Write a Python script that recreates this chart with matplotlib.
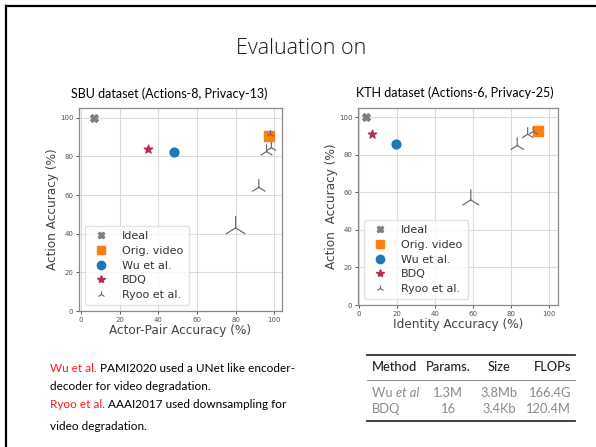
import matplotlib
matplotlib.use("Agg")
import matplotlib.pyplot as plt
from matplotlib.lines import Line2D

W, H = 596, 447

# ---------------- data ----------------
methods = ["Ideal", "Orig. video", "Wu et al.", "BDQ", "Ryoo et al."]

sbu_ideal_x, sbu_ideal_y = [7], [100]
sbu_orig_x, sbu_orig_y = [97.5], [90.5]
sbu_wu_x, sbu_wu_y = [48], [82]
sbu_bdq_x, sbu_bdq_y = [34.5], [84]
sbu_ryoo_x = [80, 92, 96, 98.5, 98]
sbu_ryoo_y = [43, 64, 82.5, 84.5, 91.5]

kth_ideal_x, kth_ideal_y = [3.5], [100]
kth_orig_x, kth_orig_y = [94.5], [93]
kth_wu_x, kth_wu_y = [19.5], [86]
kth_bdq_x, kth_bdq_y = [7], [91]
kth_ryoo_x = [59, 83.5, 89, 92]
kth_ryoo_y = [56, 85, 91, 92.5]

ticks = [0, 20, 40, 60, 80, 100]

table_cols = ["Method", "Params.", "Size", "FLOPs"]
table_methods = [("Wu ", "et al"), ("BDQ", "")]
table_params = ["1.3M", "16"]
table_size = ["3.8Mb", "3.4Kb"]
table_flops = ["166.4G", "120.4M"]

# marker sizes of the Ryoo points (style)
sbu_ryoo_s = [300, 140, 110, 70, 35]
kth_ryoo_s = [230, 140, 100, 55]

C_IDEAL = "#7f7f7f"
C_ORIG = "#ff7f0e"
C_WU = "#1f77b4"
C_BDQ = "#b8304f"
C_RYOO = "#6e6666"

fig = plt.figure(figsize=(W / 100, H / 100), dpi=100)

ov = fig.add_axes([0, 0, 1, 1])
ov.set_xlim(0, W)
ov.set_ylim(H, 0)
ov.axis("off")
ov.patch.set_visible(False)

SLIDE_FONT = ["Lato", "DejaVu Sans"]

# slide border (top, left)
ov.plot([5.5, 5.5], [H, 5.5], color="black", lw=1.6, solid_capstyle="projecting")
ov.plot([5.5, W], [5.5, 5.5], color="black", lw=1.6, solid_capstyle="projecting")

ov.text(301, 48, "Evaluation on", ha="center", va="center", fontsize=15.5,
        family=["Open Sans", "DejaVu Sans"], fontweight="light", color="#1a1a1a")


def px_axes(l, t, r, b):
    return fig.add_axes([l / W, 1 - b / H, (r - l) / W, (b - t) / H])


def style(ax, xlim, ylim, xlabel, ylabel):
    ax.set_xlim(*xlim)
    ax.set_ylim(*ylim)
    ax.set_xticks(ticks)
    ax.set_yticks(ticks)
    ax.grid(True, color="#dcdcdc", lw=0.8)
    ax.set_axisbelow(True)
    for s in ax.spines.values():
        s.set_color("#8a8a8a")
        s.set_linewidth(0.9)
    ax.tick_params(labelsize=5, colors="#555555", length=2.5, width=0.7, pad=1.5)
    ax.set_xlabel(xlabel, fontsize=8.7, color="#444444", labelpad=1)
    ax.set_ylabel(ylabel, fontsize=8.7, color="#444444", labelpad=0.5)


def draw(ax, ix, iy, ox, oy, wx, wy, bx, by, rx, ry, rs, osize):
    ax.scatter(ix, iy, marker="X", s=30, color=C_IDEAL, zorder=3)
    ax.scatter(ox, oy, marker="s", s=osize, color=C_ORIG, zorder=3)
    ax.scatter(wx, wy, marker="o", s=40, color=C_WU, zorder=3)
    ax.scatter(bx, by, marker="*", s=40, color=C_BDQ, zorder=3)
    ax.scatter(rx, ry, marker="2", s=rs, color=C_RYOO, linewidths=0.85, zorder=4)
    handles = [
        Line2D([], [], ls="none", marker="X", ms=5, color=C_IDEAL),
        Line2D([], [], ls="none", marker="s", ms=5.5, color=C_ORIG),
        Line2D([], [], ls="none", marker="o", ms=6, color=C_WU),
        Line2D([], [], ls="none", marker="*", ms=6, color=C_BDQ),
        Line2D([], [], ls="none", marker="2", ms=5, color=C_RYOO, mew=0.8),
    ]
    leg = ax.legend(handles, methods, loc="lower left", fontsize=8,
                    labelspacing=0.42, handletextpad=0.9, borderpad=0.5,
                    framealpha=0.8, edgecolor="#dddddd", fancybox=True)
    for t in leg.get_texts():
        t.set_color("#333333")


ax1 = px_axes(79, 108, 282, 311)
draw(ax1, sbu_ideal_x, sbu_ideal_y, sbu_orig_x, sbu_orig_y, sbu_wu_x, sbu_wu_y,
     sbu_bdq_x, sbu_bdq_y, sbu_ryoo_x, sbu_ryoo_y, sbu_ryoo_s, 45)
style(ax1, (-1, 104), (0, 105), "Actor-Pair Accuracy (%)", "Action Accuracy (%)")

ax2 = px_axes(358, 108, 558, 305)
draw(ax2, kth_ideal_x, kth_ideal_y, kth_orig_x, kth_orig_y, kth_wu_x, kth_wu_y,
     kth_bdq_x, kth_bdq_y, kth_ryoo_x, kth_ryoo_y, kth_ryoo_s, 60)
style(ax2, (-0.5, 105), (0, 105), "Identity Accuracy (%)", "Action  Accuracy (%)")

ov.text(169, 94, "SBU dataset (Actions-8, Privacy-13)", ha="center", va="center",
        fontsize=9, family=SLIDE_FONT, color="black")
ov.text(455, 93, "KTH dataset (Actions-6, Privacy-25)", ha="center", va="center",
        fontsize=9, family=SLIDE_FONT, color="black")

# bottom notes
ov.set_zorder(5)
RED = "#ff1a1a"
lines = [
    [("Wu et al.", RED), (" PAMI2020 used a UNet like encoder-", "black")],
    [("decoder for video degradation.", "black")],
    [("Ryoo et al.", RED), (" AAAI2017 used downsampling for", "black")],
    [("video degradation.", "black")],
]
ys = [368, 386, 405, 426]
for parts, y in zip(lines, ys):
    prev = None
    for txt, col in parts:
        if prev is None:
            prev = ov.text(50, y, txt, ha="left", va="center", fontsize=8.5,
                           family=SLIDE_FONT, color=col)
        else:
            prev = ov.annotate(txt, xy=(1, 0), xycoords=prev, ha="left", va="bottom",
                               fontsize=8.5, family=SLIDE_FONT, color=col)

# table
ov.plot([367, 575], [355, 355], color="#333333", lw=1.3)
ov.plot([367, 575], [380, 380], color="#777777", lw=0.6)
ov.plot([367, 575], [421, 421], color="#333333", lw=1.3)
col_x = [372, 448, 499, 571]
col_ha = ["left", "center", "center", "right"]
TFS = 9.3
for cx, ha, c in zip(col_x, col_ha, table_cols):
    ov.text(cx, 367, c, ha=ha, va="center", fontsize=TFS, family=SLIDE_FONT,
            color="#222222", fontweight="medium")
GREY = "#8a8a8a"
for ry, (m1, m2), p, sz, fl in zip([393, 409], table_methods, table_params,
                                    table_size, table_flops):
    t = ov.text(col_x[0], ry, m1, ha="left", va="center", fontsize=TFS,
                family=SLIDE_FONT, color=GREY)
    if m2:
        ov.annotate(m2, xy=(1, 0), xycoords=t, ha="left", va="bottom", fontsize=TFS,
                    family=SLIDE_FONT, color=GREY, style="italic")
    ov.text(col_x[1], ry, p, ha="center", va="center", fontsize=TFS, family=SLIDE_FONT, color=GREY)
    ov.text(col_x[2], ry, sz, ha="center", va="center", fontsize=TFS, family=SLIDE_FONT, color=GREY)
    ov.text(col_x[3], ry, fl, ha="right", va="center", fontsize=TFS, family=SLIDE_FONT, color=GREY)

fig.savefig("out.png", dpi=100)
